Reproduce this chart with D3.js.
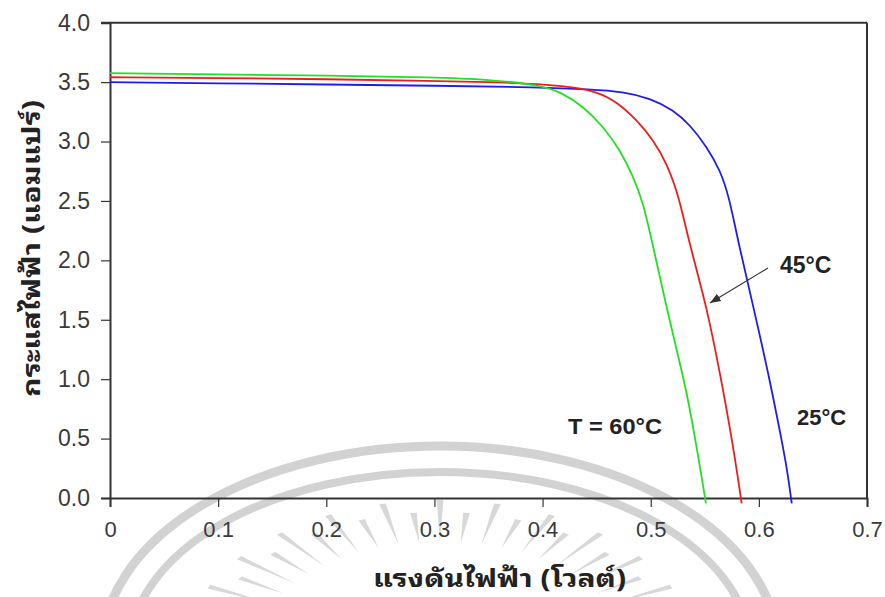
<!DOCTYPE html>
<html>
<head>
<meta charset="utf-8">
<script src="https://cdn.jsdelivr.net/npm/d3@7"></script>
<style>
  html, body { margin: 0; padding: 0; background: #ffffff; }
  svg { display: block; }
</style>
</head>
<body>
<svg id="chart" width="885" height="597"></svg>
<script>
// ---------------- data ----------------
const xTicks = [0, 0.1, 0.2, 0.3, 0.4, 0.5, 0.6, 0.7];
const yTicks = [0, 0.5, 1.0, 1.5, 2.0, 2.5, 3.0, 3.5, 4.0];
const xTitle = "แรงดันไฟฟ้า (โวลต์)";
const yTitle = "กระแสไฟฟ้า (แอมแปร์)";

// 25°C (blue)
const v25 = [0, 0.1, 0.2, 0.3, 0.3976, 0.4439, 0.4747, 0.4994, 0.521, 0.5363, 0.5518, 0.5641, 0.5725, 0.581, 0.5949, 0.6088, 0.6211, 0.6265, 0.6304];
const i25 = [3.50, 3.49, 3.48, 3.47, 3.457, 3.44, 3.42, 3.364, 3.266, 3.14, 2.957, 2.761, 2.536, 2.15, 1.61, 1.05, 0.488, 0.22, -0.045];
// 45°C (red)
const v45 = [0, 0.1, 0.2, 0.3, 0.35, 0.3976, 0.4284, 0.45, 0.4685, 0.487, 0.5024, 0.5148, 0.5262, 0.5348, 0.5518, 0.5641, 0.5764, 0.5841];
const i45 = [3.541, 3.535, 3.525, 3.51, 3.50, 3.485, 3.457, 3.42, 3.336, 3.182, 3.013, 2.817, 2.536, 2.172, 1.61, 1.05, 0.432, -0.045];
// 60°C (green)
const v60 = [0, 0.1, 0.2, 0.3, 0.35, 0.3976, 0.4192, 0.4377, 0.4562, 0.4716, 0.4839, 0.4932, 0.5009, 0.5179, 0.5333, 0.544, 0.5511];
const i60 = [3.575, 3.565, 3.555, 3.54, 3.522, 3.476, 3.406, 3.294, 3.125, 2.929, 2.705, 2.481, 2.172, 1.47, 0.909, 0.348, -0.045];

const seriesNames = ["25°C", "45°C", "60°C"];
const seriesColors = ["#1c1cee", "#ee1c1c", "#22e022"];

// ---------------- layout ----------------
const svg = d3.select("#chart");
const W = 885, H = 597;
const plot = { left: 110, right: 867, top: 22.7, bottom: 498 };

// ---------------- watermark (decorative logo) ----------------
const wm = svg.append("g").attr("fill", "none").attr("stroke", "#d2d2d2");
const wcx = 440, wcy = 650, sx = 1.7;
wm.append("ellipse").attr("cx", wcx).attr("cy", wcy).attr("rx", 338).attr("ry", 204)
  .attr("stroke-width", 9);
wm.append("ellipse").attr("cx", wcx).attr("cy", wcy).attr("rx", 310).attr("ry", 178)
  .attr("stroke-width", 8);
const rayAngles = d3.range(-78, 79, 6.5);
rayAngles.forEach((a, k) => {
  const t = a * Math.PI / 180;
  const r0 = 108, r1 = (k % 2 === 0) ? 150 : 138;
  const ux = Math.sin(t), uy = -Math.cos(t);
  const px = Math.cos(t), py = Math.sin(t);
  const w = 2.0;
  const p = [
    [wcx + ux * r0 * sx, wcy + uy * r0],
    [wcx + (ux * r1 + px * w) * sx, wcy + uy * r1 + py * w],
    [wcx + (ux * r1 - px * w) * sx, wcy + uy * r1 - py * w]
  ];
  wm.append("path").attr("d", d3.line()(p) + "Z").attr("fill", "#d8d8d8").attr("stroke", "none");
});

// ---------------- scales ----------------
const x = d3.scaleLinear().domain([0, 0.7]).range([plot.left, plot.right]);
const y = d3.scaleLinear().domain([0, 4.0]).range([plot.bottom, plot.top]);

const axisColor = "#333333";
const tickFont = "'Liberation Sans', Arial, sans-serif";

// y axis
const yAxis = svg.append("g").attr("transform", `translate(${plot.left},0)`)
  .call(d3.axisLeft(y).tickValues(yTicks).tickFormat(d3.format(".1f")).tickSize(9).tickPadding(11));
yAxis.select(".domain").attr("stroke", axisColor).attr("stroke-width", 2);
yAxis.selectAll(".tick line").attr("stroke", axisColor).attr("stroke-width", 1.2);
yAxis.selectAll(".tick text").attr("fill", "#3a3a3a").style("font-family", tickFont).style("font-size", "23px");

// x axis
const xAxis = svg.append("g").attr("transform", `translate(0,${plot.bottom})`)
  .call(d3.axisBottom(x).tickValues(xTicks).tickFormat(d => d === 0 ? "0" : d3.format(".1f")(d)).tickSize(9).tickPadding(14));
xAxis.select(".domain").attr("stroke", axisColor).attr("stroke-width", 2);
xAxis.selectAll(".tick line").attr("stroke", axisColor).attr("stroke-width", 1.2);
xAxis.selectAll(".tick text").attr("fill", "#3a3a3a").style("font-family", tickFont).style("font-size", "22px");

// frame top + right
svg.append("line").attr("x1", plot.left - 9).attr("x2", plot.right).attr("y1", plot.top).attr("y2", plot.top)
  .attr("stroke", axisColor).attr("stroke-width", 2);
svg.append("line").attr("x1", plot.right).attr("x2", plot.right).attr("y1", plot.top).attr("y2", plot.bottom)
  .attr("stroke", axisColor).attr("stroke-width", 2);

// ---------------- curves ----------------
const line = d3.line().x(d => x(d[0])).y(d => y(d[1])).curve(d3.curveBasis);
const series = [
  { v: v25, i: i25 },
  { v: v45, i: i45 },
  { v: v60, i: i60 }
];
series.forEach((s, k) => {
  const pts = s.v.map((v, j) => [v, s.i[j]]);
  svg.append("path").datum(pts).attr("d", line)
    .attr("fill", "none").attr("stroke", seriesColors[k]).attr("stroke-width", 1.8);
});

// ---------------- annotations ----------------
const annFont = "'Liberation Sans', Arial, sans-serif";
svg.append("defs").append("marker").attr("id", "arr").attr("viewBox", "0 0 10 10")
  .attr("refX", 10).attr("refY", 5).attr("markerWidth", 9).attr("markerHeight", 9)
  .attr("orient", "auto").append("path").attr("d", "M0,1 L10,5 L0,9 Z").attr("fill", "#333");
svg.append("line").attr("x1", 768).attr("y1", 268).attr("x2", 710).attr("y2", 303)
  .attr("stroke", "#333").attr("stroke-width", 1.2).attr("marker-end", "url(#arr)");

svg.append("text").attr("x", 780).attr("y", 273).text(seriesNames[1])
  .style("font-family", annFont).style("font-size", "23px").style("font-weight", "bold").attr("fill", "#222");
svg.append("text").attr("x", 797).attr("y", 425).text(seriesNames[0])
  .style("font-family", annFont).style("font-size", "22px").style("font-weight", "bold").attr("fill", "#222");
svg.append("text").attr("x", 568).attr("y", 434).text("T = " + seriesNames[2])
  .attr("textLength", 94).attr("lengthAdjust", "spacingAndGlyphs")
  .style("font-family", annFont).style("font-size", "22px").style("font-weight", "bold").attr("fill", "#222");

// ---------------- axis titles ----------------
const titleFont = "'Noto Sans Thai Looped', 'Noto Serif Thai', Loma, Garuda, Norasi, 'Noto Sans Thai', 'Noto Sans', 'DejaVu Sans', sans-serif";
svg.append("text").attr("x", 373).attr("y", 587).text(xTitle)
  .attr("textLength", 253).attr("lengthAdjust", "spacingAndGlyphs")
  .style("font-family", titleFont).style("font-size", "25px").style("font-weight", "bold").attr("fill", "#222");
svg.append("text").attr("transform", "translate(40,397) rotate(-90)").text(yTitle)
  .attr("textLength", 297).attr("lengthAdjust", "spacingAndGlyphs")
  .style("font-family", titleFont).style("font-size", "25px").style("font-weight", "bold").attr("fill", "#222");
</script>
</body>
</html>
